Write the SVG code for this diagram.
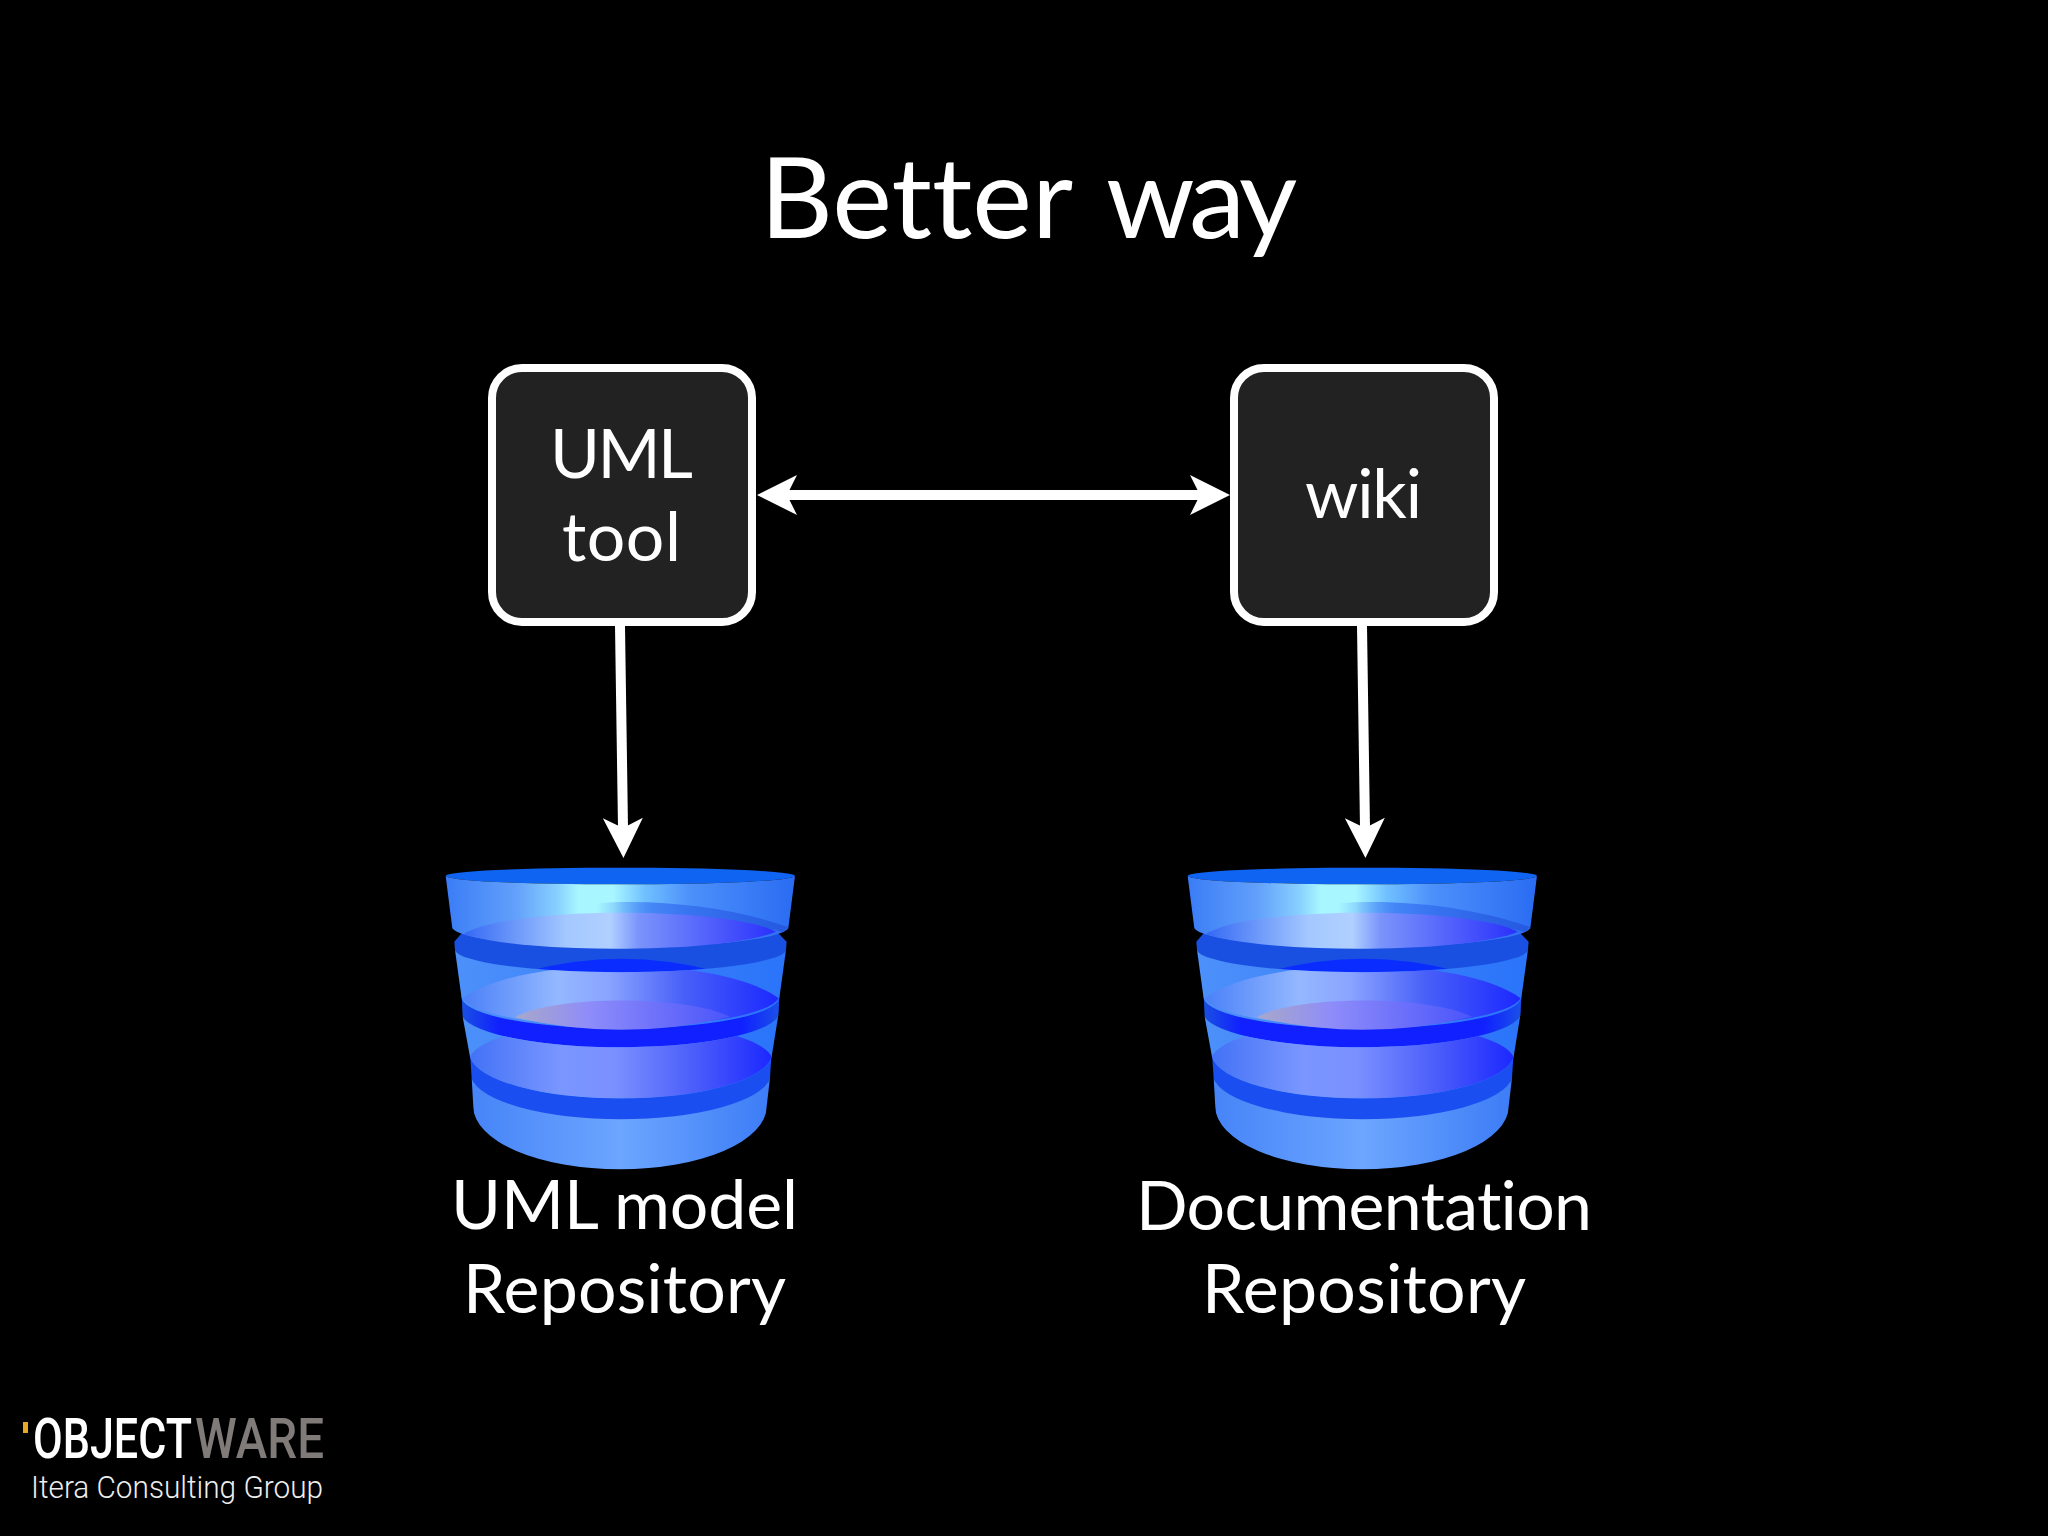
<svg xmlns="http://www.w3.org/2000/svg" width="2048" height="1536" viewBox="0 0 2048 1536">
<style>
text{font-family:"Lato","Noto Sans","Liberation Sans",sans-serif;fill:#fff;font-variant-ligatures:none}
.box{fill:#222;stroke:#fff;stroke-width:8}
.big{font-size:68px}
.conn{fill:none;stroke:#fff;stroke-width:10;marker-end:url(#head)}
.both{marker-start:url(#head)}
.logo{font-family:"Roboto","DejaVu Sans",sans-serif}
</style>
<defs>
<marker id="head" markerUnits="userSpaceOnUse" markerWidth="44" markerHeight="44" viewBox="0 0 44 44" refX="12" refY="22" orient="auto-start-reverse">
<path d="M42 22L2 42L12 22L2 2Z" fill="#fff"/>
</marker>
<linearGradient id="g1"><stop offset="0" stop-color="#3a7cf6"/><stop offset=".2" stop-color="#62a0fb"/><stop offset=".32" stop-color="#88d0fe"/><stop offset=".38" stop-color="#a8f6ff"/><stop offset=".48" stop-color="#a8f6ff"/><stop offset=".57" stop-color="#70c0ff"/><stop offset=".7" stop-color="#4c90fb"/><stop offset="1" stop-color="#2a6cf2"/></linearGradient>
<linearGradient id="g2"><stop offset="0" stop-color="#3468f4"/><stop offset=".33" stop-color="#a4c8ff"/><stop offset=".47" stop-color="#b0d0ff"/><stop offset=".56" stop-color="#7a94fb"/><stop offset="1" stop-color="#2a30fc"/></linearGradient>
<linearGradient id="g3"><stop offset="0" stop-color="#4a80f8"/><stop offset=".3" stop-color="#94b8ff"/><stop offset=".46" stop-color="#8aa4ff"/><stop offset=".7" stop-color="#4860f8"/><stop offset="1" stop-color="#1c28ff"/></linearGradient>
<linearGradient id="g4"><stop offset="0" stop-color="#4272f6"/><stop offset=".3" stop-color="#7a96ff"/><stop offset=".48" stop-color="#7a90ff"/><stop offset=".75" stop-color="#4a5cfa"/><stop offset="1" stop-color="#1c28ff"/></linearGradient>
<linearGradient id="g5"><stop offset="0" stop-color="#4684f8"/><stop offset=".5" stop-color="#6ca6ff"/><stop offset="1" stop-color="#3c7cf6"/></linearGradient>
<linearGradient id="gap2"><stop offset="0" stop-color="#1a50e2"/><stop offset=".12" stop-color="#1020ff"/><stop offset=".88" stop-color="#1020ff"/><stop offset="1" stop-color="#1a50e8"/></linearGradient>
<linearGradient id="inner"><stop offset="0" stop-color="#a8a8c8"/><stop offset=".35" stop-color="#8e8cfa"/><stop offset="1" stop-color="#4a54fa"/></linearGradient>
<linearGradient id="back"><stop offset="0" stop-color="#3a78f4" stop-opacity="0"/><stop offset=".3" stop-color="#3a78f4" stop-opacity=".8"/><stop offset="1" stop-color="#2458e0"/></linearGradient>
<linearGradient id="side"><stop offset="0" stop-color="#4c90fa"/><stop offset="1" stop-color="#2a74fa"/></linearGradient>
<clipPath id="c3"><path d="M128 530A476 105 0 0 0 1076 520L1055 650A454 137 0 0 1 150 650Z"/></clipPath>
<clipPath id="c2"><path d="M105 330A497 70 0 0 0 1098 330L1078 475A477 95 0 0 1 125 475Z"/></clipPath>
<g id="repo" transform="translate(420 840) scale(.3333)">
<ellipse cx="601" cy="108" rx="524" ry="25" fill="#1064f2"/>
<path d="M150 640L155 715A450 145 0 0 0 1050 715L1055 640Z" fill="#1a4ef0"/>
<path d="M155 715A450 137 0 0 0 1050 715L1040 800A440 188 0 0 1 160 800Z" fill="url(#g5)"/>
<path d="M125 465L128 530A476 110 0 0 0 1076 520L1078 465Z" fill="url(#gap2)"/>
<path d="M128 530A476 105 0 0 0 1076 520L1055 650A454 137 0 0 1 150 650Z" fill="url(#side)"/>
<path clip-path="url(#c3)" d="M150 650C220 515 980 515 1055 650A454 137 0 0 1 150 650Z" fill="url(#g4)"/>
<path d="M103 305L125 280L1075 280L1100 305L1098 330A497 75 0 0 1 105 330Z" fill="#1a50e2"/>
<path d="M330 392Q605 320 880 392Q605 412 330 392Z" fill="#0a2cff"/>
<path d="M105 330A497 70 0 0 0 1098 330L1078 475A477 95 0 0 1 125 475Z" fill="url(#side)"/>
<path clip-path="url(#c2)" d="M128 475C300 345 900 345 1076 475A477 95 0 0 1 128 475Z" fill="url(#g3)"/>
<path d="M285 532C400 465 800 465 930 530Q605 608 285 532Z" fill="url(#inner)"/>
<path d="M77 108A524 25 0 0 0 1125 108L1105 265A505 60 0 0 1 97 265Z" fill="url(#g1)"/>
<path d="M530 190C720 175 950 205 1105 262L1088 276C950 240 800 218 530 222Z" fill="url(#back)"/>
<path d="M130 283C260 198 920 198 1068 275A505 75 0 0 1 130 283Z" fill="url(#g2)"/>
</g>
</defs>
<rect width="2048" height="1536" fill="#000"/>
<text id="title" y="238" font-size="113"><tspan x="760">Better</tspan> <tspan x="1106" letter-spacing="-5">way</tspan></text>
<g id="connectors">
<path class="conn both" d="M787 495H1200"/>
<path class="conn" d="M620 626L623 828"/>
<path class="conn" d="M1362 626L1365 828"/>
</g>
<g id="uml-tool">
<rect class="box" x="492" y="368" width="260" height="254" rx="30"/>
<text class="big" x="550" y="478" textLength="143">UML</text>
<text class="big" x="562" y="561" textLength="119">tool</text>
</g>
<g id="wiki">
<rect class="box" x="1234" y="368" width="260" height="254" rx="30"/>
<text class="big" x="1305" y="518" textLength="117">wiki</text>
</g>
<g id="uml-repository">
<use href="#repo"/>
<text class="big" x="451" y="1229" textLength="347">UML model</text>
<text class="big" x="463" y="1313" textLength="323">Repository</text>
</g>
<g id="doc-repository">
<use href="#repo" x="742"/>
<text class="big" x="1136" y="1230" textLength="456">Documentation</text>
<text class="big" x="1202" y="1313" textLength="324">Repository</text>
</g>
<g id="logo">
<rect x="23" y="1422" width="5" height="11" fill="#e9a823"/>
<text class="logo" x="33" y="1458" font-size="56" font-weight="500" textLength="159" lengthAdjust="spacingAndGlyphs">OBJECT</text>
<text class="logo" x="195" y="1458" font-size="56" font-weight="500" textLength="129" lengthAdjust="spacingAndGlyphs" style="fill:#807b79">WARE</text>
<text class="logo" x="31" y="1498" font-size="31" font-weight="300" textLength="292" lengthAdjust="spacingAndGlyphs" style="fill:#eee">Itera Consulting Group</text>
</g>
</svg>
